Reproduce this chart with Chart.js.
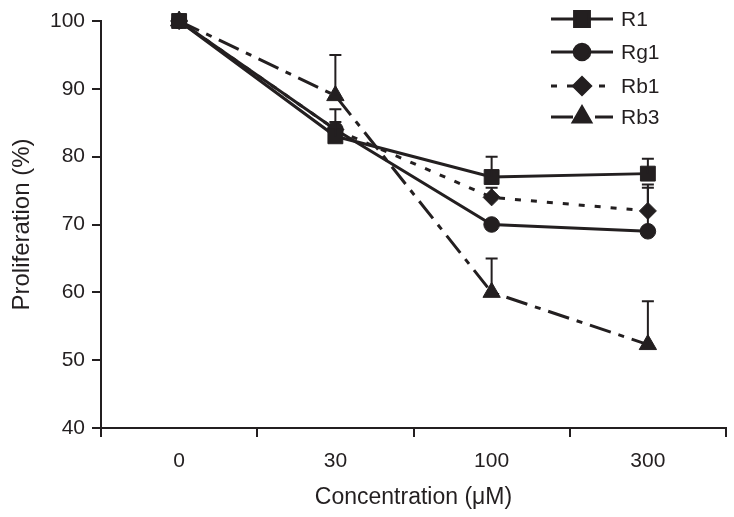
<!DOCTYPE html>
<html>
<head>
<meta charset="utf-8">
<title>Proliferation</title>
<script src="https://cdn.jsdelivr.net/npm/chart.js@4.4.1/dist/chart.umd.min.js"></script>
<style>
  html, body { margin: 0; padding: 0; background: #fff; }
  #wrap { width: 734px; height: 517px; }
</style>
</head>
<body>
<div id="wrap"><canvas id="chart"></canvas></div>
<script>
'use strict'

// Data
const concentrations = ['0', '30', '100', '300'];
const seriesNames = ['R1', 'Rg1', 'Rb1', 'Rb3'];
const r1 = [100, 83, 77, 77.5];
const rg1 = [100, 84, 70, 69];
const rb1 = [100, 84, 74, 72];
const rb3 = [100, 89, 60, 52.3];
// upper error bars (SD)
const r1Err = [0, 2.1, 3, 2.2];
const rg1Err = [0, 0, 0, 6.4];
const rb1Err = [0, 3, 1.4, 3.9];
const rb3Err = [0, 6, 5, 6.4];
const yTicks = [40, 50, 60, 70, 80, 90, 100];

const INK = '#231f20';
const FONT = '"Liberation Sans", Arial, Helvetica, sans-serif';

function series(label, data, err, pointStyle, radius, dash) {
    return {
        label: label,
        data: data,
        errors: err,
        borderColor: INK,
        backgroundColor: INK,
        borderWidth: 3,
        borderDash: dash,
        pointStyle: pointStyle,
        pointRadius: radius,
        pointBorderWidth: 1,
        pointBackgroundColor: INK,
        pointBorderColor: INK,
        tension: 0,
        clip: false
    };
}

const datasets = [
    series(seriesNames[0], r1, r1Err, 'rect', 10.5, []),
    series(seriesNames[1], rg1, rg1Err, 'circle', 7.8, []),
    series(seriesNames[2], rb1, rb1Err, 'rectRot', 8.5, [6, 10]),
    series(seriesNames[3], rb3, rb3Err, 'triangle', 10, [22, 8, 6, 8])
];

// upper-only error bars with a cap
const errorBars = {
    id: 'errorBars',
    afterDatasetsDraw(chart) {
        const ctx = chart.ctx;
        const y = chart.scales.y;
        ctx.save();
        ctx.strokeStyle = INK;
        ctx.lineWidth = 2;
        ctx.setLineDash([]);
        chart.data.datasets.forEach((ds, di) => {
            const meta = chart.getDatasetMeta(di);
            ds.errors.forEach((e, i) => {
                if (!e) return;
                const px = meta.data[i].x;
                const y0 = y.getPixelForValue(ds.data[i]);
                const y1 = y.getPixelForValue(ds.data[i] + e);
                ctx.beginPath();
                ctx.moveTo(px, y0);
                ctx.lineTo(px, y1);
                ctx.moveTo(px - 6, y1);
                ctx.lineTo(px + 6, y1);
                ctx.stroke();
            });
        });
        ctx.restore();
    }
};

// legend: line with marker in the middle, text to the right
const lineLegend = {
    id: 'lineLegend',
    afterDraw(chart) {
        const ctx = chart.ctx;
        const x0 = 551, x1 = 613, xm = 582, tx = 621;
        const rows = [19, 52, 86, 117];
        ctx.save();
        chart.data.datasets.forEach((ds, i) => {
            const yy = rows[i];
            ctx.strokeStyle = INK;
            ctx.lineWidth = ds.borderWidth;
            ctx.setLineDash(ds.borderDash);
            ctx.beginPath();
            ctx.moveTo(x0, yy);
            ctx.lineTo(x1, yy);
            ctx.stroke();
            ctx.setLineDash([]);
            ctx.fillStyle = INK;
            Chart.helpers.drawPoint(ctx, {
                pointStyle: ds.pointStyle,
                radius: ds.pointRadius,
                borderWidth: 1,
                rotation: 0
            }, xm, yy);
            ctx.font = '21px ' + FONT;
            ctx.textBaseline = 'middle';
            ctx.textAlign = 'left';
            ctx.fillText(ds.label, tx, yy + 1);
        });
        ctx.restore();
    }
};

new Chart(document.getElementById('chart'), {
    type: 'line',
    data: { labels: concentrations, datasets: datasets },
    plugins: [errorBars, lineLegend],
    options: {
        responsive: true,
        maintainAspectRatio: false,
        animation: false,
        layout: { autoPadding: false, padding: { top: 21, right: 8, left: 0, bottom: 0 } },
        plugins: {
            legend: { display: false },
            tooltip: { enabled: false }
        },
        scales: {
            x: {
                type: 'category',
                offset: true,
                grid: {
                    display: true,
                    offset: true,
                    drawOnChartArea: false,
                    drawTicks: true,
                    tickLength: 9,
                    color: INK,
                    lineWidth: 2
                },
                border: { display: true, color: INK, width: 2 },
                ticks: {
                    color: INK,
                    font: { family: FONT, size: 21 },
                    padding: 12
                },
                title: {
                    display: true,
                    text: 'Concentration (μM)',
                    color: INK,
                    font: { family: FONT, size: 23 },
                    padding: { top: 0, bottom: 6 }
                },
                afterFit(scale) {
                    scale.height = 89;
                    scale.paddingLeft = 0;
                    scale.paddingRight = 0;
                }
            },
            y: {
                min: 40,
                max: 100,
                afterBuildTicks(scale) {
                    scale.ticks = yTicks.map(v => ({ value: v }));
                },
                grid: {
                    display: true,
                    drawOnChartArea: false,
                    drawTicks: true,
                    tickLength: 9,
                    color: INK,
                    lineWidth: 2
                },
                border: { display: true, color: INK, width: 2 },
                ticks: {
                    color: INK,
                    font: { family: FONT, size: 21 },
                    padding: 7
                },
                title: {
                    display: true,
                    text: 'Proliferation (%)',
                    color: INK,
                    font: { family: FONT, size: 24 },
                    padding: { top: 8, bottom: 0 }
                },
                afterFit(scale) { scale.width = 101; }
            }
        }
    }
});
</script>
</body>
</html>
